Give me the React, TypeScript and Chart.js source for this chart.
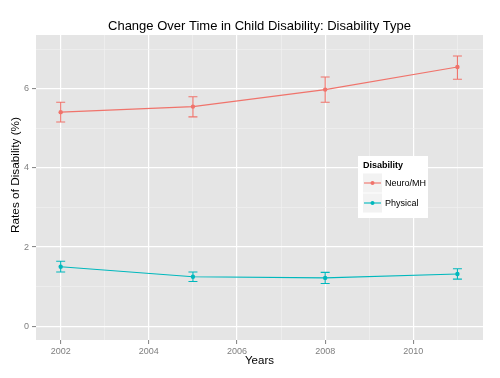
import React, { useEffect, useRef } from "react";
import { Chart, registerables } from "chart.js";
Chart.register(...registerables);

const chartTitle = "Change Over Time in Child Disability: Disability Type";
const xTitle = "Years";
const yTitle = "Rates of Disability (%)";
const legendTitle = "Disability";
const seriesNames = ["Neuro/MH", "Physical"];
const seriesColors = ["#F0736B", "#00B8BD"];

const years = [2002, 2005, 2008, 2011];
const neuroMH = [5.41, 5.55, 5.98, 6.55];
const neuroMHLow = [5.16, 5.29, 5.66, 6.24];
const neuroMHHigh = [5.66, 5.8, 6.3, 6.83];
const physical = [1.5, 1.25, 1.22, 1.32];
const physicalLow = [1.37, 1.13, 1.08, 1.19];
const physicalHigh = [1.64, 1.37, 1.36, 1.45];

const xMajorTicks = [2002, 2004, 2006, 2008, 2010];
const xMinorTicks = [2003, 2005, 2007, 2009, 2011];
const yMajorTicks = [0, 2, 4, 6];
const yMinorTicks = [1, 3, 5, 7];

const FONT = "'Liberation Sans', Arial, Helvetica, sans-serif";

const lows = [neuroMHLow, physicalLow];
const highs = [neuroMHHigh, physicalHigh];

const decorPlugin = {
  id: "decor",
  beforeDraw(chart: any) {
    const { ctx, chartArea } = chart;
    ctx.save();
    ctx.fillStyle = "#FFFFFF";
    ctx.fillRect(0, 0, chart.width, chart.height);
    ctx.fillStyle = "#E5E5E5";
    ctx.fillRect(chartArea.left, chartArea.top, chartArea.right - chartArea.left, chartArea.bottom - chartArea.top);
    ctx.restore();
  },
  beforeDatasetsDraw(chart: any) {
    const { ctx } = chart;
    const xs = chart.scales.x;
    const ys = chart.scales.y;
    ctx.save();
    chart.data.datasets.forEach((ds: any, di: number) => {
      ctx.strokeStyle = seriesColors[di];
      ctx.lineWidth = 1.1;
      years.forEach((yr, i) => {
        const px = xs.getPixelForValue(yr);
        const pl = ys.getPixelForValue(lows[di][i]);
        const ph = ys.getPixelForValue(highs[di][i]);
        ctx.beginPath();
        ctx.moveTo(px, pl);
        ctx.lineTo(px, ph);
        ctx.moveTo(px - 4.5, pl);
        ctx.lineTo(px + 4.5, pl);
        ctx.moveTo(px - 4.5, ph);
        ctx.lineTo(px + 4.5, ph);
        ctx.stroke();
      });
    });
    ctx.restore();
  },
  afterDraw(chart: any) {
    const { ctx, chartArea } = chart;
    const cx = (chartArea.left + chartArea.right) / 2;
    ctx.save();
    // title
    ctx.fillStyle = "#000000";
    ctx.font = `13px ${FONT}`;
    ctx.textAlign = "center";
    ctx.textBaseline = "middle";
    ctx.fillText(chartTitle, cx, 26);
    // x title
    ctx.font = `11.5px ${FONT}`;
    ctx.fillText(xTitle, cx, 361);
    // y title
    ctx.font = `11.8px ${FONT}`;
    ctx.translate(15.5, 175);
    ctx.rotate(-Math.PI / 2);
    ctx.fillText(yTitle, 0, 0);
    ctx.restore();

    // legend
    ctx.save();
    const lx = 358, ly = 156, lw = 70, lh = 62;
    ctx.fillStyle = "#FFFFFF";
    ctx.fillRect(lx, ly, lw, lh);
    ctx.fillStyle = "#000000";
    ctx.font = `bold 9px ${FONT}`;
    ctx.textAlign = "left";
    ctx.textBaseline = "middle";
    ctx.fillText(legendTitle, 363, 165.5);
    seriesNames.forEach((name, i) => {
      const ky = 173.5 + i * 20;
      ctx.fillStyle = "#F2F2F2";
      ctx.fillRect(363, ky, 19, 19);
      ctx.strokeStyle = seriesColors[i];
      ctx.lineWidth = 1.1;
      ctx.beginPath();
      ctx.moveTo(364, ky + 9.5);
      ctx.lineTo(381, ky + 9.5);
      ctx.stroke();
      ctx.fillStyle = seriesColors[i];
      ctx.beginPath();
      ctx.arc(372.5, ky + 9.5, 2, 0, Math.PI * 2);
      ctx.fill();
      ctx.fillStyle = "#000000";
      ctx.font = `9px ${FONT}`;
      ctx.fillText(name, 385, ky + 10);
    });
    ctx.restore();
  },
};

export default function App() {
  const ref = useRef<HTMLCanvasElement>(null);
  useEffect(() => {
    if (!ref.current) return;
    const chart = new Chart(ref.current, {
      type: "line",
      data: {
        datasets: [
          {
            label: seriesNames[0],
            data: years.map((y, i) => ({ x: y, y: neuroMH[i] })),
            borderColor: seriesColors[0],
            backgroundColor: seriesColors[0],
            borderWidth: 1.1,
            pointRadius: 2.2,
            pointBorderWidth: 0,
            tension: 0,
          },
          {
            label: seriesNames[1],
            data: years.map((y, i) => ({ x: y, y: physical[i] })),
            borderColor: seriesColors[1],
            backgroundColor: seriesColors[1],
            borderWidth: 1.1,
            pointRadius: 2.2,
            pointBorderWidth: 0,
            tension: 0,
          },
        ],
      },
      options: {
        animation: false,
        responsive: false,
        maintainAspectRatio: false,
        layout: { padding: { top: 35, right: 17, left: 0, bottom: 0 } },
        plugins: { legend: { display: false }, title: { display: false }, tooltip: { enabled: false } },
        scales: {
          x: {
            type: "linear",
            min: 2001.44,
            max: 2011.58,
            afterFit: (s: any) => { s.height = 38; },
            afterBuildTicks: (s: any) => {
              s.ticks = [...xMajorTicks, ...xMinorTicks].sort((a, b) => a - b).map((v) => ({ value: v }));
            },
            border: { display: false },
            grid: {
              color: (c: any) => (xMajorTicks.includes(c.tick?.value) ? "#FFFFFF" : "#F2F2F2"),
              lineWidth: (c: any) => (xMajorTicks.includes(c.tick?.value) ? 1.2 : 0.6),
              tickColor: (c: any) => (xMajorTicks.includes(c.tick?.value) ? "#7F7F7F" : "rgba(0,0,0,0)"),
              tickLength: 4,
              tickWidth: 1,
            },
            ticks: {
              autoSkip: false,
              maxRotation: 0,
              padding: 2,
              color: "#7F7F7F",
              font: { family: FONT, size: 9 },
              callback: (v: any) => (xMajorTicks.includes(Number(v)) ? String(v) : ""),
            },
          },
          y: {
            type: "linear",
            min: -0.35,
            max: 7.36,
            afterFit: (s: any) => { s.width = 36; },
            afterBuildTicks: (s: any) => {
              s.ticks = [...yMajorTicks, ...yMinorTicks].sort((a, b) => a - b).map((v) => ({ value: v }));
            },
            border: { display: false },
            grid: {
              color: (c: any) => (yMajorTicks.includes(c.tick?.value) ? "#FFFFFF" : "#F2F2F2"),
              lineWidth: (c: any) => (yMajorTicks.includes(c.tick?.value) ? 1.2 : 0.6),
              tickColor: (c: any) => (yMajorTicks.includes(c.tick?.value) ? "#7F7F7F" : "rgba(0,0,0,0)"),
              tickLength: 4,
              tickWidth: 1,
            },
            ticks: {
              autoSkip: false,
              padding: 3,
              color: "#7F7F7F",
              font: { family: FONT, size: 9 },
              callback: (v: any) => (yMajorTicks.includes(Number(v)) ? String(v) : ""),
            },
          },
        },
      },
      plugins: [decorPlugin],
    });
    return () => chart.destroy();
  }, []);
  return (
    <div style={{ position: "fixed", left: 0, top: 0, width: 500, height: 378 }}>
      <canvas ref={ref} width={500} height={378} style={{ width: 500, height: 378 }} />
    </div>
  );
}
